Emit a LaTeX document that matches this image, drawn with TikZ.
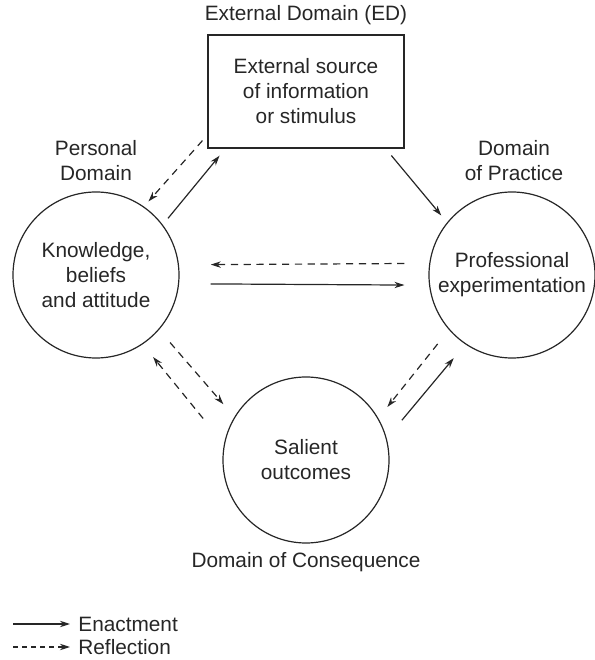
\documentclass[tikz,border=0pt]{standalone}
\usepackage{fontspec}
\setmainfont{Liberation Sans}
\usetikzlibrary{arrows.meta, calc}

\tikzset{
    domaincirc/.style={draw=black!85, line width=0.6pt, circle, minimum size=83pt, inner sep=0pt, align=center},
    sourcebox/.style={draw=black!85, line width=0.6pt, minimum width=98pt, minimum height=56.5pt, align=center},
    enactarrow/.style={->, draw=black!85, line width=0.6pt},
    reflectarrow/.style={->, draw=black!85, line width=0.6pt, dash pattern=on 3.6pt off 2.8pt}
}

\begin{document}
\begin{tikzpicture}[x=0.5pt, y=0.5pt, >={Stealth[length=5pt, width=3.2pt, inset=1.6pt]},
    every node/.style={font=\fontsize{10.4pt}{12.5pt}\selectfont, text=black!85}]
    \useasboundingbox (0,0) rectangle (595,660);

    % External domain
    \node[sourcebox] (source) at (306,568.5) {External source\\of information\\or stimulus};
    \node (edlbl) at (306,645) {External Domain (ED)};

    % Personal domain
    \node[domaincirc] (know) at (96,385) {Knowledge,\\beliefs\\and attitude};
    \node[align=center] (perslbl) at (96,499.5) {Personal\\Domain};

    % Domain of practice
    \node[domaincirc] (practice) at (512,385) {Professional\\experimentation};
    \node[align=center] (praclbl) at (514,499.5) {Domain\\of Practice};

    % Domain of consequence
    \node[domaincirc] (outcome) at (306,200) {Salient\\outcomes};
    \node (conslbl) at (306,98) {Domain of Consequence};

    % Arrows round the cycle
    \draw[enactarrow, shorten <=4.1pt, shorten >=4.6pt] (know.37.7) -- ($(source.south west)+(18,0)$);
    \draw[reflectarrow, shorten <=3.7pt, shorten >=3.4pt] ($(source.south west)+(0,13.6)$) -- (know.55);
    \draw[enactarrow, shorten <=4.5pt, shorten >=4.5pt] ($(source.south east)+(-19,0)$) -- (practice.141.5);
    \draw[reflectarrow, shorten <=12.4pt, shorten >=15.9pt] (practice.172.3) -- (know.7.6);
    \draw[enactarrow, shorten <=15.8pt, shorten >=12.3pt] (know.-6.9) -- (practice.187);
    \draw[reflectarrow, shorten <=8.4pt, shorten >=8.4pt] (know.-41.8) -- (outcome.149.6);
    \draw[reflectarrow, shorten <=16.5pt, shorten >=8.2pt] (outcome.169.3) -- (know.-56.7);
    \draw[reflectarrow, shorten <=9pt, shorten >=7.2pt] (practice.221.4) -- (outcome.30.9);
    \draw[enactarrow, shorten <=11.8pt, shorten >=9pt] (outcome.15.3) -- (practice.236.4);

    % Legend
    \node[anchor=west, inner sep=0pt] (enactlbl) at (78,36) {Enactment};
    \node[anchor=west, inner sep=0pt] (reflectlbl) at (78,13) {Reflection};
    \coordinate (e0) at (13,36);
    \coordinate (r0) at (13,13);
    \draw[enactarrow, shorten >=4pt] (e0) -- (enactlbl.west);
    \draw[reflectarrow, dash pattern=on 2.5pt off 2pt, shorten >=4pt] (r0) -- (reflectlbl.west);

\end{tikzpicture}
\end{document}
